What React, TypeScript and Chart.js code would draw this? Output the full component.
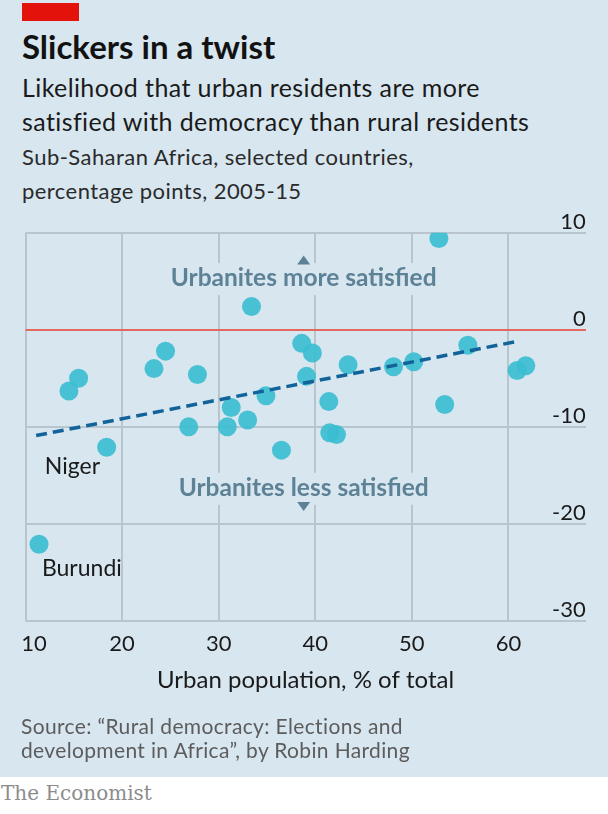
import React, { useEffect, useRef } from 'react';
import { Chart, registerables } from 'chart.js';

Chart.register(...registerables);

// ---------- data ----------
const urbanPct = [11.4, 14.5, 15.5, 18.4, 23.3, 24.5, 26.9, 27.8, 30.9, 31.3, 33.0, 33.4, 34.9, 36.5, 38.6, 39.1, 39.7, 41.4, 41.5, 42.2, 43.4, 48.1, 50.2, 52.8, 53.4, 55.8, 60.9, 61.8];
const satisfactionGap = [-22.1, -6.3, -5.0, -12.1, -4.0, -2.2, -10.0, -4.6, -10.0, -8.0, -9.3, 2.4, -6.8, -12.4, -1.4, -4.8, -2.4, -7.4, -10.6, -10.8, -3.6, -3.8, -3.3, 9.4, -7.7, -1.6, -4.2, -3.7];
const trendX = [11.1, 60.9];
const trendY = [-10.9, -1.2];
const xTickValues = [10, 20, 30, 40, 50, 60];
const yTickValues = [-30, -20, -10, 0, 10];

const countryNames = ['Niger', 'Burundi'];
const countryLabelX = [12.0, 11.7];
const countryLabelY = [-14.9, -25.4];

const regionTexts = ['Urbanites more satisfied', 'Urbanites less satisfied'];
const regionTextY = [4.5, -17.1];
const regionArrowY = [7.2, -18.2];
const regionArrowDir = ['up', 'down'];
const regionCenterX = 38.8;

// ---------- styles ----------
const BG = '#d7e6ef';
const GRID = 'rgb(184,197,205)';
const ZERO = '#e5685e';
const DOT = 'rgba(58,189,209,0.9)';
const TREND = '#12639a';
const SLATE = '#5d8296';
const INK = '#1a1a1a';
const FONT = 'Lato, "Open Sans", sans-serif';

const annotationPlugin = {
  id: 'econAnnotations',
  beforeDatasetsDraw(chart: any) {
    const { ctx, scales } = chart;
    const x = scales.x;
    const y = scales.y;
    ctx.save();
    ctx.font = `700 24.5px ${FONT}`;
    regionTexts.forEach((text, i) => {
      const cx = x.getPixelForValue(regionCenterX);
      const by = y.getPixelForValue(regionTextY[i]);
      const ty = y.getPixelForValue(regionArrowY[i]);
      const w = ctx.measureText(text).width;
      ctx.fillStyle = BG;
      ctx.fillRect(cx - w / 2 - 4, by - 23, w + 8, 32);
      ctx.fillRect(cx - 10, ty - 10, 20, 20);
      ctx.fillStyle = SLATE;
      ctx.textAlign = 'center';
      ctx.textBaseline = 'alphabetic';
      ctx.fillText(text, cx, by);
      ctx.beginPath();
      if (regionArrowDir[i] === 'up') {
        ctx.moveTo(cx, ty - 4.5);
        ctx.lineTo(cx + 6.5, ty + 4.5);
        ctx.lineTo(cx - 6.5, ty + 4.5);
      } else {
        ctx.moveTo(cx, ty + 4.5);
        ctx.lineTo(cx + 6.5, ty - 4.5);
        ctx.lineTo(cx - 6.5, ty - 4.5);
      }
      ctx.closePath();
      ctx.fill();
    });
    ctx.font = `400 23px ${FONT}`;
    ctx.fillStyle = INK;
    ctx.textAlign = 'left';
    ctx.textBaseline = 'alphabetic';
    countryNames.forEach((name, i) => {
      ctx.fillText(name, x.getPixelForValue(countryLabelX[i]), y.getPixelForValue(countryLabelY[i]));
    });
    ctx.restore();
  },
};

function EconChart() {
  const ref = useRef<HTMLCanvasElement | null>(null);
  useEffect(() => {
    let chart: any = null;
    let cancelled = false;
    const make = () => {
      if (cancelled || !ref.current) return;
      chart = new Chart(ref.current, {
        type: 'scatter',
        data: {
          datasets: [
            {
              type: 'line',
              data: trendX.map((v, i) => ({ x: v, y: trendY[i] })),
              borderColor: TREND,
              borderWidth: 3.5,
              borderDash: [11, 6],
              pointRadius: 0,
              fill: false,
              order: 0,
            } as any,
            {
              type: 'scatter',
              data: urbanPct.map((v, i) => ({ x: v, y: satisfactionGap[i] })),
              backgroundColor: DOT,
              borderWidth: 0,
              pointRadius: 9.5,
              pointHoverRadius: 9.5,
              order: 1,
            },
          ],
        },
        options: {
          responsive: false,
          animation: false,
          events: [],
          layout: { padding: { left: 25.5, right: 22.3, top: 32.7, bottom: 19 } },
          plugins: { legend: { display: false }, tooltip: { enabled: false } },
          scales: {
            x: {
              type: 'linear',
              min: 10,
              max: 68,
              afterBuildTicks: (s: any) => { s.ticks = xTickValues.map((v) => ({ value: v })); },
              afterFit: (s: any) => { s.height = 80; s.paddingLeft = 0; s.paddingRight = 0; },
              grid: { color: GRID, lineWidth: 2, drawTicks: false },
              border: { display: false },
              ticks: {
                font: { family: FONT, size: 22 },
                color: INK,
                padding: 10,
                maxRotation: 0,
                autoSkip: false,
                callback: (v: any) => (v === 10 ? '   10' : String(v)),
              },
              title: {
                display: true,
                text: 'Urban population, % of total',
                font: { family: FONT, size: 24 },
                color: INK,
                padding: { top: 0, bottom: 6 },
              },
            },
            y: {
              type: 'linear',
              position: 'right',
              min: -30,
              max: 10,
              afterBuildTicks: (s: any) => { s.ticks = yTickValues.map((v) => ({ value: v })); },
              afterFit: (s: any) => { s.width = 0; s.paddingTop = 0; s.paddingBottom = 0; },
              grid: {
                color: (c: any) => (c.tick && c.tick.value === 0 ? ZERO : GRID),
                lineWidth: 2,
                drawTicks: false,
              },
              border: { display: false },
              ticks: {
                mirror: true,
                padding: 0,
                crossAlign: 'near',
                labelOffset: -11,
                font: { family: FONT, size: 22 },
                color: INK,
              },
            },
          },
        },
        plugins: [annotationPlugin],
      } as any);
    };
    const fonts: any = (document as any).fonts;
    if (fonts && fonts.load) {
      Promise.all([
        fonts.load(`22px Lato`),
        fonts.load(`700 24px Lato`),
        fonts.load(`24px Lato`),
      ]).catch(() => null).then(make);
    } else {
      make();
    }
    return () => {
      cancelled = true;
      if (chart) chart.destroy();
    };
  }, []);
  return <canvas ref={ref} width={608} height={520} style={{ display: 'block', width: 608, height: 520 }} />;
}

const abs = (left: number, top: number, size: number, extra: any = {}) => ({
  position: 'absolute' as const,
  left,
  top,
  fontFamily: FONT,
  fontSize: size,
  lineHeight: 1.2,
  whiteSpace: 'nowrap' as const,
  margin: 0,
  ...extra,
});

export default function App() {
  useEffect(() => {
    document.body.style.margin = '0';
  }, []);
  return (
    <div style={{ position: 'relative', width: 608, height: 814, background: '#ffffff', overflow: 'hidden' }}>
      <div style={{ position: 'absolute', left: 0, top: 0, width: 608, height: 777, background: BG }} />
      <div style={{ position: 'absolute', left: 22, top: 3, width: 57, height: 18, background: '#e3120b' }} />
      <div style={abs(22, 26.7, 33, { fontWeight: 700, color: '#121212' })}>Slickers in a twist</div>
      <div style={abs(22, 71.8, 25, { color: INK, letterSpacing: 0.4 })}>Likelihood that urban residents are more</div>
      <div style={abs(22, 106.3, 25, { color: INK, letterSpacing: 0.4 })}>satisfied with democracy than rural residents</div>
      <div style={abs(22, 144.3, 22, { color: '#2a2a2a', letterSpacing: 0.45 })}>Sub-Saharan Africa, selected countries,</div>
      <div style={abs(22, 177.6, 22, { color: '#2a2a2a', letterSpacing: 0.45 })}>percentage points, 2005-15</div>
      <div style={{ position: 'absolute', left: 0, top: 200, width: 608, height: 520 }}>
        <EconChart />
      </div>
      <div style={abs(21, 712.6, 21, { color: '#5c5c5c', letterSpacing: 0.35 })}>Source: “Rural democracy: Elections and</div>
      <div style={abs(21, 736.6, 21, { color: '#5c5c5c', letterSpacing: 0.35 })}>development in Africa”, by Robin Harding</div>
      <div style={abs(1, 781, 20, { fontFamily: '"DejaVu Serif", serif', color: '#8c8c8c' })}>The Economist</div>
    </div>
  );
}
